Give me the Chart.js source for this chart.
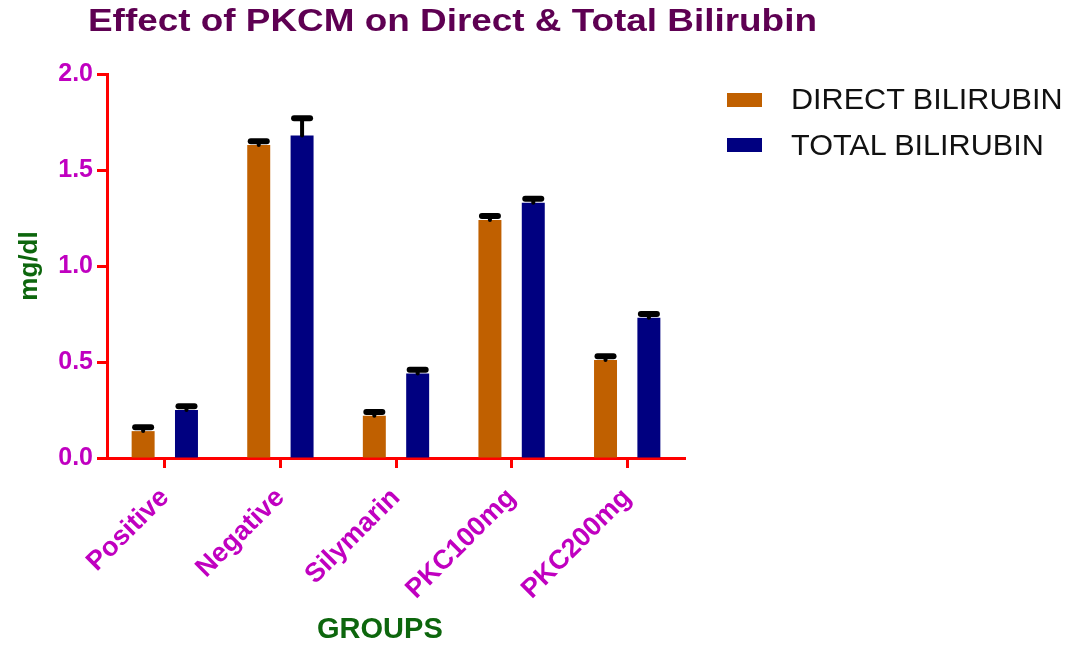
<!DOCTYPE html>
<html>
<head>
<meta charset="utf-8">
<title>Effect of PKCM on Direct & Total Bilirubin</title>
<script src="https://cdn.jsdelivr.net/npm/chart.js@4.4.0/dist/chart.umd.min.js"></script>
<style>
  body { margin: 0; background: #fff; }
  #wrap { position: relative; width: 1083px; height: 650px; font-family: "Liberation Sans", Arial, sans-serif; }
  #title {
    position: absolute; left: 88px; top: 5px; margin: 0;
    font-size: 31px; line-height: 31px; font-weight: bold; color: #5e0052;
    white-space: nowrap; transform: scaleX(1.19); transform-origin: left center;
  }
  .key { position: absolute; left: 727px; width: 35px; height: 14px; }
  .keytext { position: absolute; left: 791px; font-size: 30px; line-height: 30px; color: #111; white-space: nowrap; transform: scaleX(1.02); transform-origin: left center; }
  canvas { position: absolute; left: 0; top: 0; }
</style>
</head>
<body>
<div id="wrap">
  <canvas id="bilirubinChart" width="1083" height="650"></canvas>
  <h1 id="title">Effect of PKCM on Direct &amp; Total Bilirubin</h1>
  <div class="key" style="top:93px;background:#c06000"></div>
  <div class="keytext" style="top:84px">DIRECT BILIRUBIN</div>
  <div class="key" style="top:138px;background:#000080"></div>
  <div class="keytext" style="top:130px">TOTAL BILIRUBIN</div>
</div>
<script>
// values (mg/dl)
const groups = ['Positive', 'Negative', 'Silymarin', 'PKC100mg', 'PKC200mg'];
const directBilirubin = [0.14, 1.63, 0.22, 1.24, 0.51];
const totalBilirubin = [0.25, 1.68, 0.44, 1.33, 0.73];
const directErr = [0.02, 0.02, 0.02, 0.02, 0.02];
const totalErr = [0.02, 0.09, 0.02, 0.02, 0.02];
const yTicks = [0, 0.5, 1.0, 1.5, 2.0];

const magenta = '#c000c0';
const green = '#0d660d';

// error bars on top of each bar (SEM caps)
const errorBars = {
    id: 'errorBars',
    afterDatasetsDraw(chart) {
        const ctx = chart.ctx;
        const yScale = chart.scales.y;
        [directErr, totalErr].forEach((errs, di) => {
            const meta = chart.getDatasetMeta(di);
            meta.data.forEach((bar, i) => {
                const v = chart.data.datasets[di].data[i];
                const top = yScale.getPixelForValue(v + errs[i]);
                ctx.save();
                ctx.strokeStyle = '#000';
                ctx.lineCap = 'round';
                ctx.lineWidth = 4;
                ctx.beginPath();
                ctx.moveTo(bar.x, bar.y);
                ctx.lineTo(bar.x, top);
                ctx.stroke();
                ctx.lineWidth = 6;
                ctx.beginPath();
                ctx.moveTo(bar.x - 8, top);
                ctx.lineTo(bar.x + 8, top);
                ctx.stroke();
                ctx.restore();
            });
        });
    }
};

const ctx = document.getElementById('bilirubinChart').getContext('2d');
const bilirubinChart = new Chart(ctx, {
    type: 'bar',
    data: {
        labels: groups,
        datasets: [{
            label: 'DIRECT BILIRUBIN',
            data: directBilirubin,
            backgroundColor: '#c06000',
            borderWidth: 0,
            categoryPercentage: 0.75,
            barPercentage: 0.53
        }, {
            label: 'TOTAL BILIRUBIN',
            data: totalBilirubin,
            backgroundColor: '#000080',
            borderWidth: 0,
            categoryPercentage: 0.75,
            barPercentage: 0.53
        }]
    },
    options: {
        responsive: false,
        animation: false,
        layout: {
            padding: { top: 74, right: 398, left: 0, bottom: 0 }
        },
        scales: {
            x: {
                afterFit: s => { s.height = 192; },
                grid: {
                    offset: false,
                    drawOnChartArea: false,
                    drawTicks: true,
                    tickLength: 10,
                    tickWidth: 3,
                    color: '#ff0000'
                },
                border: { color: '#ff0000', width: 3 },
                ticks: {
                    autoSkip: false,
                    minRotation: 45,
                    maxRotation: 45,
                    padding: 14,
                    color: magenta,
                    font: { family: '"Liberation Sans", Arial, sans-serif', size: 27, weight: 'bold' }
                },
                title: {
                    display: true,
                    text: 'GROUPS    ', // trailing spaces nudge it left like the original
                    color: green,
                    padding: { top: 0, bottom: 3 },
                    font: { family: '"Liberation Sans", Arial, sans-serif', size: 29, weight: 'bold' }
                }
            },
            y: {
                min: 0,
                max: 2,
                afterFit: s => { s.width = 107; },
                afterBuildTicks: s => { s.ticks = yTicks.map(v => ({ value: v })); },
                grid: {
                    drawOnChartArea: false,
                    drawTicks: true,
                    tickLength: 10,
                    tickWidth: 3,
                    color: '#ff0000'
                },
                border: { color: '#ff0000', width: 3 },
                ticks: {
                    padding: 4,
                    color: magenta,
                    callback: v => Number(v).toFixed(1),
                    font: { family: '"Liberation Sans", Arial, sans-serif', size: 25, weight: 'bold' }
                },
                title: {
                    display: true,
                    text: 'mg/dl',
                    color: green,
                    padding: { top: 14, bottom: 0 },
                    font: { family: '"Liberation Sans", Arial, sans-serif', size: 26, weight: 'bold' }
                }
            }
        },
        plugins: {
            legend: { display: false }, // drawn as html on the right
            title: { display: false },
            tooltip: { enabled: false }
        }
    },
    plugins: [errorBars]
});
</script>
</body>
</html>
